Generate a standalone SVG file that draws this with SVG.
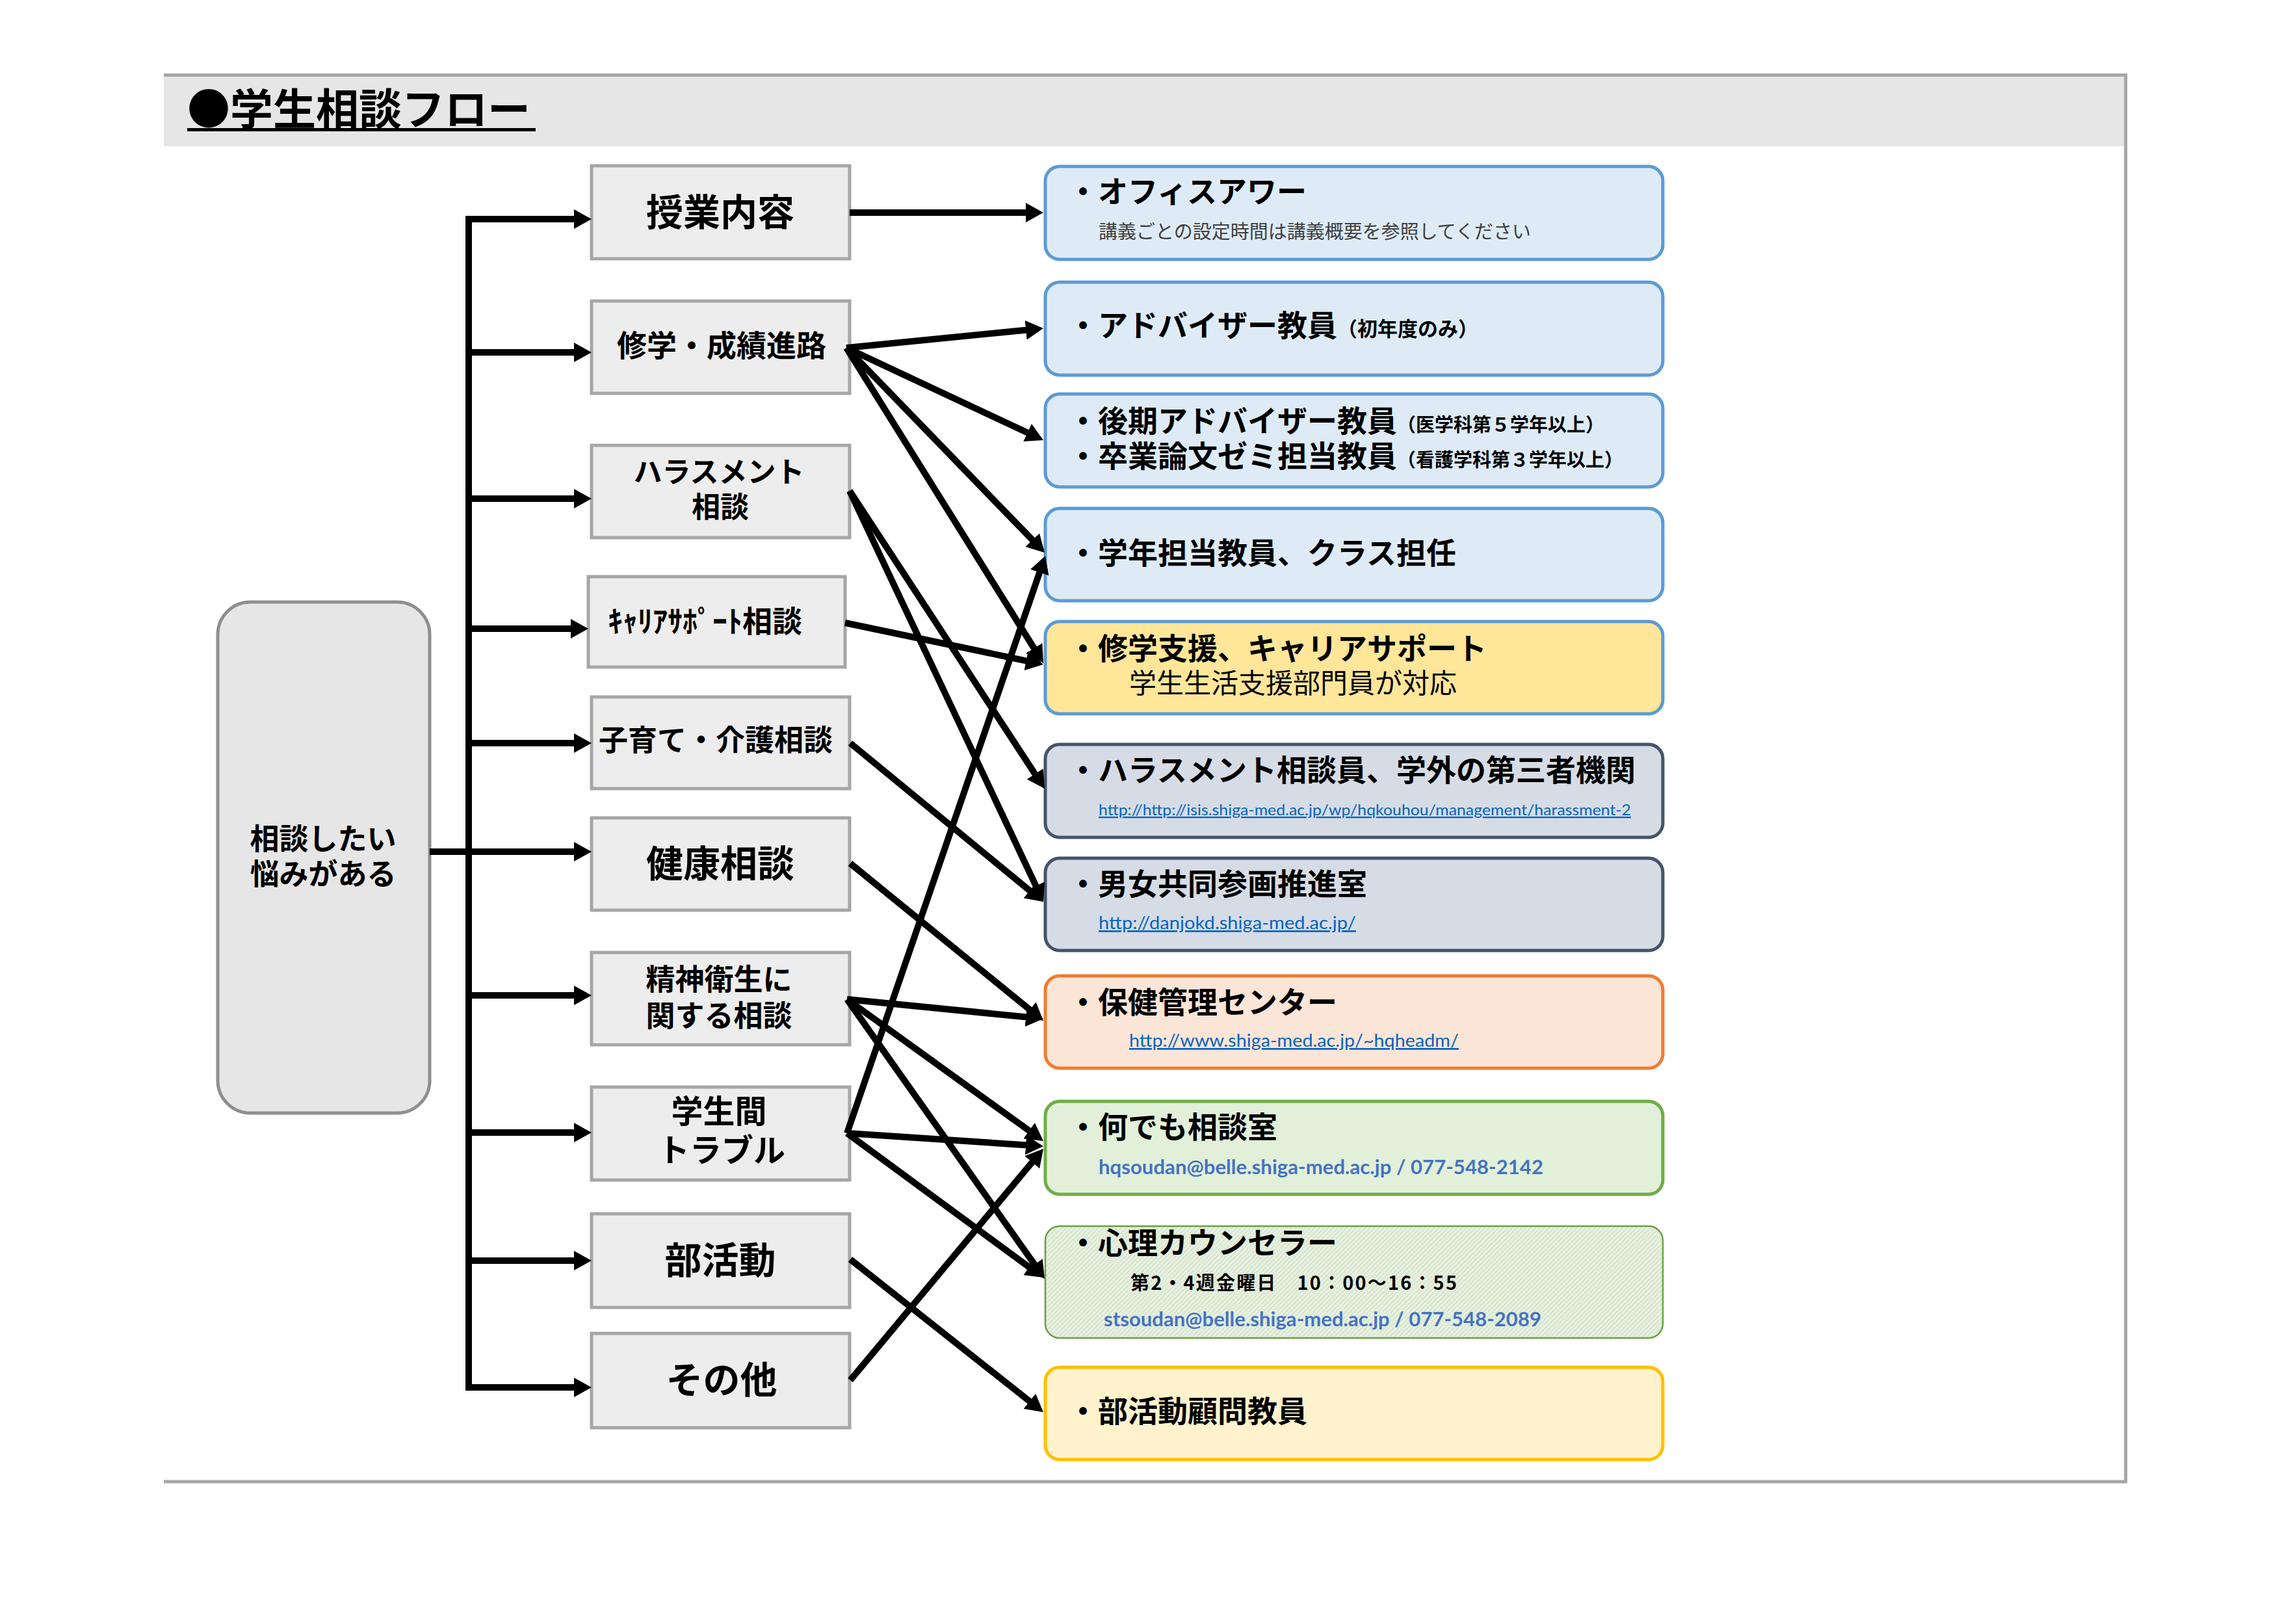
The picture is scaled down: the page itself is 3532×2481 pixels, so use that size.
<svg xmlns="http://www.w3.org/2000/svg" width="3532" height="2481" viewBox="0 0 3532 2481">
<style>
.jp{font-family:"Noto Sans CJK JP","Noto Sans CJK SC",sans-serif;fill:#000}
.b{font-weight:bold}
.lb{fill:#ededed;stroke:#a6a6a6;stroke-width:5}
.rb{stroke-width:5}
.blue{fill:#deebf7;stroke:#5b9bd5}
.gold{fill:#ffe699;stroke:#5b9bd5}
.slate{fill:#d6dce5;stroke:#44546a}
.orange{fill:#fbe5d6;stroke:#ed7d31}
.green{fill:#e2f0d9;stroke:#70ad47}
.yellow{fill:#fff2cc;stroke:#ffc000}
.url{font-family:Lato,"Open Sans","Liberation Sans",sans-serif;fill:#0563c1;text-decoration:underline}
.mail{font-family:Lato,"Open Sans","Liberation Sans",sans-serif;fill:#4472c4;font-weight:bold}
.mid{text-anchor:middle}
#connectors line{stroke:#000;stroke-width:10;marker-end:url(#ah)}
</style>
<defs>
<marker id="ah" markerUnits="userSpaceOnUse" markerWidth="27" markerHeight="30" refX="7" refY="15" orient="auto"><path d="M0,0 L27,15 L0,30 z" fill="#000"/></marker>
<pattern id="hatch" width="5" height="5" patternUnits="userSpaceOnUse" patternTransform="rotate(45)"><rect width="5" height="5" fill="#e6f0df"/><line x1="0" y1="0" x2="0" y2="5" stroke="#c8d9bc" stroke-width="1.6"/></pattern>
</defs>
<rect width="3532" height="2481" fill="#fff"/>
<!-- frame and header -->
<g id="frame">
<rect x="252" y="117" width="3016" height="108" fill="#e7e6e6"/>
<polyline points="252,115.5 3270,115.5 3270,2279 252,2279" fill="none" stroke="#a6a6a6" stroke-width="5"/>
<text class="jp b" x="288" y="192" font-size="66">●学生相談フロー</text>
<line x1="288" y1="199.5" x2="824" y2="199.5" stroke="#000" stroke-width="5"/>
</g>
<!-- source node -->
<g id="n-start">
<rect x="335" y="926" width="326" height="786" rx="50" fill="#e7e6e6" stroke="#8f8f8f" stroke-width="5"/>
<text class="jp b mid" x="497" y="1307" font-size="45">相談したい</text>
<text class="jp b mid" x="497" y="1361" font-size="45">悩みがある</text>
</g>
<!-- left category nodes -->
<g id="n-jugyo"><rect class="lb" x="910" y="255" width="397" height="143"/><text class="jp b mid" x="1108" y="347" font-size="57">授業内容</text></g>
<g id="n-shugaku"><rect class="lb" x="910" y="463" width="397" height="142"/><text class="jp b mid" x="1110" y="548" font-size="46">修学・成績進路</text></g>
<g id="n-harass"><rect class="lb" x="910" y="685" width="397" height="142"/><text class="jp b mid" x="1106" y="742" font-size="44">ハラスメント</text><text class="jp b mid" x="1108" y="796" font-size="44">相談</text></g>
<g id="n-career"><rect class="lb" x="905" y="887" width="395" height="139"/><text class="jp b" x="935" y="972" font-size="46">ｷｬﾘｱｻﾎﾟｰﾄ相談</text></g>
<g id="n-kosodate"><rect class="lb" x="910" y="1072" width="397" height="141"/><text class="jp b mid" x="1101" y="1155" font-size="45">子育て・介護相談</text></g>
<g id="n-kenko"><rect class="lb" x="910" y="1258" width="397" height="142"/><text class="jp b mid" x="1108" y="1349" font-size="57">健康相談</text></g>
<g id="n-seishin"><rect class="lb" x="910" y="1465" width="397" height="142"/><text class="jp b mid" x="1106" y="1523" font-size="45">精神衛生に</text><text class="jp b mid" x="1106" y="1579" font-size="45">関する相談</text></g>
<g id="n-gakusei"><rect class="lb" x="910" y="1672" width="397" height="143"/><text class="jp b mid" x="1106" y="1727" font-size="49">学生間</text><text class="jp b mid" x="1110" y="1787" font-size="49">トラブル</text></g>
<g id="n-bukatsu"><rect class="lb" x="910" y="1867" width="397" height="144"/><text class="jp b mid" x="1108" y="1959" font-size="57">部活動</text></g>
<g id="n-sonota"><rect class="lb" x="910" y="2051" width="397" height="145"/><text class="jp b mid" x="1110" y="2143" font-size="57">その他</text></g>
<!-- right destination nodes -->
<g id="d-office"><rect class="rb blue" x="1608" y="256" width="950" height="143" rx="22"/>
<text class="jp b" x="1643" y="311" font-size="46">・オフィスアワー</text>
<text class="jp" x="1690" y="367" font-size="29" style="fill:#404040">講義ごとの設定時間は講義概要を参照してください</text></g>
<g id="d-adviser"><rect class="rb blue" x="1608" y="434" width="950" height="143" rx="22"/>
<text class="jp b" x="1643" y="517" font-size="46">・アドバイザー教員<tspan font-size="31">（初年度のみ）</tspan></text></g>
<g id="d-koki"><rect class="rb blue" x="1608" y="606" width="950" height="143" rx="22"/>
<text class="jp b" x="1643" y="664" font-size="46">・後期アドバイザー教員<tspan font-size="29">（医学科第５学年以上）</tspan></text>
<text class="jp b" x="1643" y="718" font-size="46">・卒業論文ゼミ担当教員<tspan font-size="29">（看護学科第３学年以上）</tspan></text></g>
<g id="d-gakunen"><rect class="rb blue" x="1608" y="782" width="950" height="142" rx="22"/>
<text class="jp b" x="1643" y="867" font-size="46">・学年担当教員、クラス担任</text></g>
<g id="d-shien"><rect class="rb gold" x="1608" y="956" width="950" height="142" rx="22"/>
<text class="jp b" x="1643" y="1014" font-size="46">・修学支援、キャリアサポート</text>
<text class="jp" x="1737" y="1066" font-size="42">学生生活支援部門員が対応</text></g>
<g id="d-harass"><rect class="rb slate" x="1608" y="1145" width="950" height="143" rx="22"/>
<text class="jp b" x="1643" y="1201" font-size="46">・ハラスメント相談員、学外の第三者機関</text>
<text class="url" x="1690" y="1254" font-size="23" textLength="819" lengthAdjust="spacingAndGlyphs">http://http://isis.shiga-med.ac.jp/wp/hqkouhou/management/harassment-2</text></g>
<g id="d-danjo"><rect class="rb slate" x="1608" y="1320" width="950" height="142" rx="22"/>
<text class="jp b" x="1643" y="1376" font-size="46">・男女共同参画推進室</text>
<text class="url" x="1690" y="1429" font-size="27" textLength="396" lengthAdjust="spacingAndGlyphs">http://danjokd.shiga-med.ac.jp/</text></g>
<g id="d-hoken"><rect class="rb orange" x="1608" y="1501" width="950" height="142" rx="22"/>
<text class="jp b" x="1643" y="1558" font-size="46">・保健管理センター</text>
<text class="url" x="1737" y="1610" font-size="27" textLength="507" lengthAdjust="spacingAndGlyphs">http://www.shiga-med.ac.jp/~hqheadm/</text></g>
<g id="d-nandemo"><rect class="rb green" x="1608" y="1694" width="950" height="143" rx="22"/>
<text class="jp b" x="1643" y="1750" font-size="46">・何でも相談室</text>
<text class="mail" x="1690" y="1806" font-size="31" textLength="684" lengthAdjust="spacingAndGlyphs">hqsoudan@belle.shiga-med.ac.jp / 077-548-2142</text></g>
<g id="d-shinri"><rect x="1608" y="1886" width="950" height="172" rx="22" fill="url(#hatch)" stroke="#6a9f45" stroke-width="2.5"/>
<text class="jp b" x="1643" y="1928" font-size="46">・心理カウンセラー</text>
<text class="jp b" x="1739" y="1984" font-size="29" textLength="502" lengthAdjust="spacing">第2・4週金曜日　10：00〜16：55</text>
<text class="mail" x="1698" y="2040" font-size="31" textLength="673" lengthAdjust="spacingAndGlyphs">stsoudan@belle.shiga-med.ac.jp / 077-548-2089</text></g>
<g id="d-komon"><rect class="rb yellow" x="1608" y="2103" width="950" height="142" rx="22"/>
<text class="jp b" x="1643" y="2187" font-size="46">・部活動顧問教員</text></g>
<!-- connectors -->
<g id="connectors">
<path d="M721,332 V2139" stroke="#000" stroke-width="10" fill="none"/>
<line x1="716" y1="337" x2="890" y2="337"/>
<line x1="716" y1="542" x2="890" y2="542"/>
<line x1="716" y1="767" x2="890" y2="767"/>
<line x1="716" y1="967" x2="885" y2="967"/>
<line x1="716" y1="1143" x2="890" y2="1143"/>
<line x1="661" y1="1310" x2="890" y2="1310"/>
<line x1="716" y1="1531" x2="890" y2="1531"/>
<line x1="716" y1="1742" x2="890" y2="1742"/>
<line x1="716" y1="1939" x2="890" y2="1939"/>
<line x1="716" y1="2134" x2="890" y2="2134"/>
<line x1="1307" y1="327" x2="1585" y2="327"/>
<line x1="1302" y1="535" x2="1585.1" y2="507"/>
<line x1="1302" y1="535" x2="1586.9" y2="668.5"/>
<line x1="1302" y1="535" x2="1593.1" y2="835.6"/>
<line x1="1302" y1="535" x2="1594.4" y2="1003"/>
<line x1="1307" y1="755" x2="1596" y2="1196.3"/>
<line x1="1307" y1="755" x2="1596.5" y2="1368.9"/>
<line x1="1300" y1="958" x2="1585.4" y2="1017.9"/>
<line x1="1308" y1="1143" x2="1589.5" y2="1374.3"/>
<line x1="1308" y1="1328" x2="1589.5" y2="1557.4"/>
<line x1="1303" y1="1537" x2="1585.1" y2="1565"/>
<line x1="1303" y1="1537" x2="1588.8" y2="1743.3"/>
<line x1="1303" y1="1537" x2="1595.5" y2="1950.7"/>
<line x1="1303" y1="1743" x2="1601.5" y2="873.9"/>
<line x1="1303" y1="1743" x2="1585" y2="1761.7"/>
<line x1="1303" y1="1743" x2="1588.9" y2="1953.2"/>
<line x1="1308" y1="1937" x2="1589.3" y2="2159.6"/>
<line x1="1308" y1="2123" x2="1592.2" y2="1782.4"/>
</g>
</svg>
